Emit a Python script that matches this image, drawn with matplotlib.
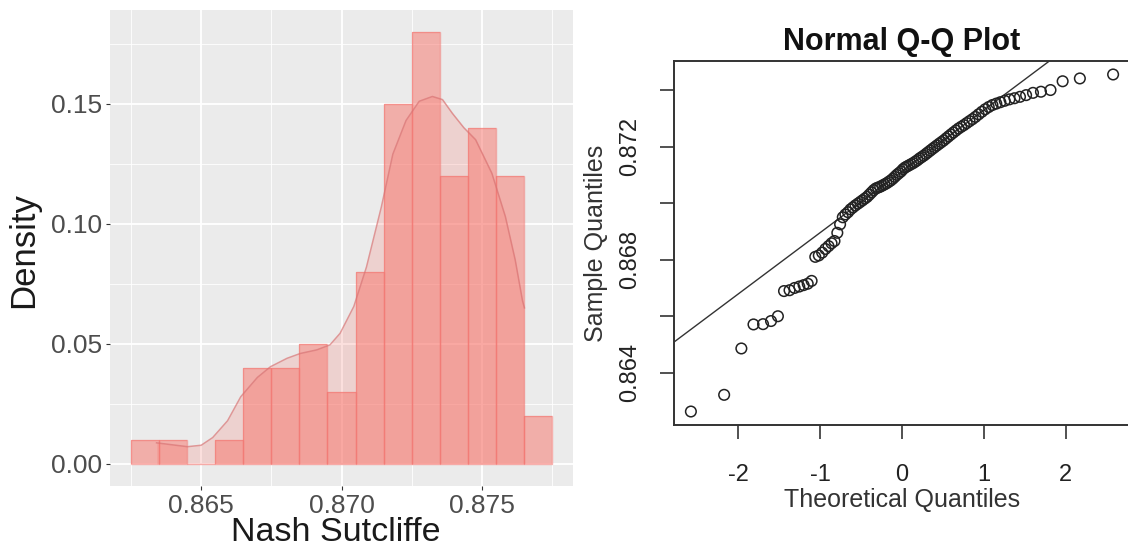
import matplotlib
matplotlib.use("Agg")
import matplotlib.pyplot as plt
import numpy as np
from statistics import NormalDist

# ---------------- data ----------------
# Histogram (left): bin centres and proportion per bin (binwidth 0.001)
hist_centers = [0.863, 0.864, 0.865, 0.866, 0.867, 0.868, 0.869, 0.870,
                0.871, 0.872, 0.873, 0.874, 0.875, 0.876, 0.877]
hist_props = [0.01, 0.01, 0.00, 0.01, 0.04, 0.04, 0.05, 0.03,
              0.08, 0.15, 0.18, 0.12, 0.14, 0.12, 0.02]
hist_binwidth = 0.001

# Density curve (scaled to proportion units)
dens_x = [0.86341, 0.86451, 0.86500, 0.86541, 0.86594, 0.86641, 0.86700,
          0.86747, 0.86806, 0.86853, 0.86912, 0.86959, 0.86995, 0.87044,
          0.87089, 0.87142, 0.87183, 0.87230, 0.87277, 0.87324, 0.87360,
          0.87395, 0.87436, 0.87478, 0.87536, 0.87584, 0.87619, 0.87645,
          0.87652]
dens_y = [0.0088, 0.0072, 0.0078, 0.0110, 0.0180, 0.0280, 0.0360,
          0.0405, 0.0440, 0.0460, 0.0475, 0.0496, 0.0544, 0.0656,
          0.0820, 0.1070, 0.1290, 0.1430, 0.1510, 0.1530, 0.1517,
          0.1460, 0.1400, 0.1350, 0.1210, 0.1030, 0.0850, 0.0680,
          0.0650]

hist_xticks = [0.865, 0.870, 0.875]
hist_yticks = [0.00, 0.05, 0.10, 0.15]

# Q-Q plot (right): sorted sample values (n = 100)
qq_sample = [
    0.86263, 0.86322, 0.86486, 0.86571, 0.86572, 0.86583, 0.86600, 0.86689,
    0.86692, 0.86700, 0.86705, 0.86710, 0.86715, 0.86725, 0.86810, 0.86815,
    0.86825, 0.86838, 0.86848, 0.86858, 0.86866, 0.86895, 0.86925, 0.86950,
    0.86960, 0.86968, 0.86978, 0.86985, 0.86992, 0.86998, 0.87004, 0.87010,
    0.87016, 0.87022, 0.87030, 0.87038, 0.87046, 0.87052, 0.87055, 0.87058,
    0.87062, 0.87066, 0.87070, 0.87075, 0.87080, 0.87086, 0.87093, 0.87100,
    0.87106, 0.87112, 0.87120, 0.87126, 0.87130, 0.87134, 0.87138, 0.87142,
    0.87147, 0.87152, 0.87158, 0.87163, 0.87168, 0.87174, 0.87180, 0.87186,
    0.87192, 0.87198, 0.87204, 0.87210, 0.87216, 0.87222, 0.87229, 0.87236,
    0.87243, 0.87250, 0.87257, 0.87264, 0.87270, 0.87276, 0.87283, 0.87290,
    0.87297, 0.87305, 0.87314, 0.87323, 0.87332, 0.87340, 0.87347, 0.87352,
    0.87357, 0.87362, 0.87367, 0.87371, 0.87376, 0.87382, 0.87390, 0.87394,
    0.87400, 0.87431, 0.87441, 0.87455]
qq_xticks = [-2, -1, 0, 1, 2]
qq_yticks = [0.864, 0.866, 0.868, 0.870, 0.872, 0.874]
qq_ylabels = ["0.864", "", "0.868", "", "0.872", ""]

# ---------------- figure ----------------
plt.rcParams['font.family'] = ['Liberation Sans', 'DejaVu Sans']
W, H = 1128, 548
fig = plt.figure(figsize=(W / 100, H / 100), dpi=100)

def px_axes(l, t, r, b):
    return fig.add_axes([l / W, 1 - b / H, (r - l) / W, (b - t) / H])

# ---- left: ggplot-like histogram ----
ax1 = px_axes(110, 10, 573, 485.6)
ax1.set_facecolor('#EBEBEB')
fill = '#F8766D'
ax1.fill_between(dens_x, 0, dens_y, color=fill, alpha=0.22, lw=0, zorder=2)
ax1.bar(hist_centers, hist_props, width=hist_binwidth, color=fill, alpha=0.52,
        edgecolor='none', zorder=3)
ax1.bar(hist_centers, hist_props, width=hist_binwidth, facecolor='none',
        edgecolor=(0.95, 0.45, 0.43, 0.55), lw=1.0, zorder=4)
ax1.plot(dens_x, dens_y, color=(0.85, 0.45, 0.45, 0.7), lw=1.1, zorder=5)

ax1.set_xlim(0.86175, 0.87825)
ax1.set_ylim(-0.009, 0.189)
ax1.set_xticks(hist_xticks)
ax1.set_xticklabels([f"{v:.3f}" for v in hist_xticks])
ax1.set_yticks(hist_yticks)
ax1.set_yticklabels([f"{v:.2f}" for v in hist_yticks])
ax1.set_xticks([0.8625, 0.8675, 0.8725, 0.8775], minor=True)
ax1.set_yticks([0.025, 0.075, 0.125, 0.175], minor=True)
ax1.grid(which='major', color='white', lw=1.3, zorder=0)
ax1.grid(which='minor', color='white', lw=0.6, zorder=0)
ax1.set_axisbelow(True)
for s in ax1.spines.values():
    s.set_visible(False)
ax1.tick_params(which='major', length=3, width=0.8, color='#333333',
                labelsize=19, labelcolor='#4D4D4D', pad=3)
ax1.tick_params(which='minor', length=0)
ax1.text(-0.186, 0.495, 'Density', transform=ax1.transAxes, rotation=90,
         ha='center', va='center', fontsize=25, color='#1A1A1A')
ax1.text(0.487, -0.117, 'Nash Sutcliffe', transform=ax1.transAxes,
         ha='center', va='baseline', fontsize=24.5, color='#1A1A1A')

# ---- right: base-R-like normal Q-Q plot ----
n = len(qq_sample)
theo = [NormalDist().inv_cdf((i + 0.5) / n) for i in range(n)]
ax2 = px_axes(674, 61, 1130, 425)
ax2.scatter(theo, qq_sample, s=58, facecolors='none', edgecolors='#222222',
            linewidths=1.1, zorder=3)
q1, q3 = np.percentile(qq_sample, [25, 75])
t1, t3 = NormalDist().inv_cdf(0.25), NormalDist().inv_cdf(0.75)
slope = (q3 - q1) / (t3 - t1)
icpt = q1 - slope * t1
xl = np.array([-3.5, 3.5])
ax2.plot(xl, icpt + slope * xl, color='#333333', lw=1.0, zorder=2)

rx = max(theo) - min(theo)
ax2.set_xlim(min(theo) - 0.04 * rx, max(theo) + 0.04 * rx)
ry = max(qq_sample) - min(qq_sample)
ax2.set_ylim(min(qq_sample) - 0.04 * ry, max(qq_sample) + 0.04 * ry)
ax2.set_xticks(qq_xticks)
ax2.set_xticklabels([str(v) for v in qq_xticks])
ax2.set_yticks(qq_yticks)
ax2.set_yticklabels(qq_ylabels, rotation=90, va='center')
for s in ax2.spines.values():
    s.set_color('#333333')
    s.set_linewidth(1.4)
ax2.tick_params(axis='both', length=10, width=1.2, color='#333333',
                labelsize=17, labelcolor='#222222')
ax2.tick_params(axis='x', pad=18)
ax2.tick_params(axis='y', pad=14)
ax2.text(0.5, -0.225, 'Theoretical Quantiles', transform=ax2.transAxes,
         ha='center', va='baseline', fontsize=18, color='#333333')
ax2.text(-0.172, 0.5, 'Sample Quantiles', transform=ax2.transAxes,
         ha='center', va='center', rotation=90, fontsize=18, color='#333333')
ax2.text(0.5, 1.03, 'Normal Q-Q Plot', transform=ax2.transAxes,
         ha='center', va='baseline', fontsize=22, fontweight='bold',
         color='#111111')

fig.savefig('out.png', dpi=100)
